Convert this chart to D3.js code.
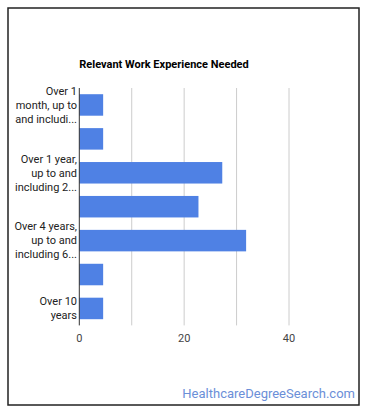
<!DOCTYPE html>
<html>
<head>
<meta charset="utf-8">
<script src="https://cdn.jsdelivr.net/npm/d3@7"></script>
<style>
  body { margin: 0; background: #fff; }
  svg { font-family: Roboto, Arial, sans-serif; }
</style>
</head>
<body>
<div class="chart"></div>
<script>
// Chart size.
var w = 370,
    h = 417;

// Data.
var categories = [
  ["Over 1", "month, up to", "and includi..."],
  [],
  ["Over 1 year,", "up to and", "including 2..."],
  [],
  ["Over 4 years,", "up to and", "including 6..."],
  [],
  ["Over 10", "years"]
];
var values = [4.55, 4.55, 27.27, 22.73, 31.82, 4.55, 4.55];
var tickValues = [0, 20, 40];
var gridValues = [0, 10, 20, 30, 40];

// Plot area.
var plotLeft = 79.3, plotRight = 289, plotTop = 88, plotBottom = 325.4;

var svg = d3.select(".chart").append("svg")
  .attr("width", w)
  .attr("height", h);

// Outer frame.
svg.append("rect")
  .attr("x", 8)
  .attr("y", 8)
  .attr("width", 351)
  .attr("height", 397)
  .attr("fill", "#fff")
  .attr("stroke", "#222")
  .attr("stroke-width", 1.5);

var xScale = d3.scaleLinear()
  .domain([0, 40])
  .range([plotLeft, plotRight]);

var yScale = d3.scaleBand()
  .domain(d3.range(values.length))
  .range([plotTop, plotBottom])
  .paddingInner(0.366)
  .paddingOuter(0.183);

// Gridlines.
svg.selectAll("line.grid")
  .data(gridValues.slice(1))
  .enter()
  .append("line")
  .attr("class", "grid")
  .attr("x1", function(d) { return xScale(d); })
  .attr("x2", function(d) { return xScale(d); })
  .attr("y1", plotTop)
  .attr("y2", plotBottom)
  .attr("stroke", "#cccccc")
  .attr("stroke-width", 1);

// Bars.
svg.selectAll("rect.bar")
  .data(values)
  .enter()
  .append("rect")
  .attr("class", "bar")
  .attr("x", xScale(0))
  .attr("y", function(d, i) { return yScale(i); })
  .attr("width", function(d) { return xScale(d) - xScale(0); })
  .attr("height", yScale.bandwidth())
  .attr("fill", "#4f81e4");

// Baseline.
svg.append("line")
  .attr("x1", xScale(0))
  .attr("x2", xScale(0))
  .attr("y1", plotTop)
  .attr("y2", plotBottom)
  .attr("stroke", "#333")
  .attr("stroke-width", 1);

// X tick labels.
svg.selectAll("text.xtick")
  .data(tickValues)
  .enter()
  .append("text")
  .attr("class", "xtick")
  .attr("x", function(d) { return xScale(d); })
  .attr("y", 342)
  .attr("text-anchor", "middle")
  .style("font-size", "11px")
  .attr("fill", "#444")
  .text(function(d) { return d; });

// Category labels.
categories.forEach(function(lines, i) {
  var cy = yScale(i) + yScale.bandwidth() / 2;
  var y0 = cy - (lines.length - 1) * 14 / 2;
  lines.forEach(function(line, j) {
    svg.append("text")
      .attr("x", 77)
      .attr("y", y0 + j * 14)
      .attr("dy", "0.35em")
      .attr("text-anchor", "end")
      .style("font-size", "11px")
      .attr("fill", "#222")
      .text(line);
  });
});

// Title.
svg.append("text")
  .attr("x", plotLeft)
  .attr("y", 68)
  .style("font-size", "11px")
  .style("font-weight", "bold")
  .attr("fill", "#000")
  .text("Relevant Work Experience Needed");

// Watermark.
svg.append("text")
  .attr("x", 355)
  .attr("y", 398)
  .attr("text-anchor", "end")
  .style("font-size", "13px")
  .attr("fill", "#6b8fd8")
  .text("HealthcareDegreeSearch.com");
</script>
</body>
</html>
